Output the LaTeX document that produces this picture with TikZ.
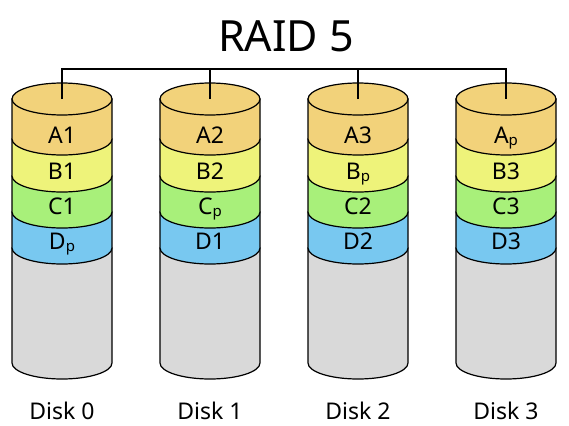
\documentclass[tikz,border=0pt]{standalone}
\usepackage{fontspec}
\setmainfont{Noto Sans}
\definecolor{layerA}{HTML}{F2D27A}
\definecolor{layerB}{HTML}{EEF37A}
\definecolor{layerC}{HTML}{A8F07A}
\definecolor{layerD}{HTML}{78C8F0}
\definecolor{diskgray}{HTML}{D9D9D9}
\newcommand{\subp}[1]{#1\raisebox{-2pt}{\fontsize{15}{15}\selectfont p}}
\begin{document}
\begin{tikzpicture}[x=1pt, y=-1pt, line width=1.2pt,
  every node/.style={font=\fontsize{23}{23}\selectfont, inner sep=0pt, anchor=base},
  layer/.style={draw=black, fill=#1}]
  \useasboundingbox (0,0) rectangle (569,425);
  \node (title) at (286,52) {\fontsize{43}{43}\selectfont RAID 5};
  \coordinate (bus) at (0,69);

  \foreach \i/\cx/\la/\lb/\lc/\ld in {0/62/A1/B1/C1/{\subp{D}},
      1/210/A2/B2/{\subp{C}}/D1, 2/358/A3/{\subp{B}}/C2/D2,
      3/506/{\subp{A}}/B3/C3/D3} {
    % body and stripes, from the bottom up
    \draw[layer=diskgray] (\cx-50,248) -- (\cx-50,363)
      arc[start angle=180, end angle=360, x radius=50pt, y radius=16pt] -- (\cx+50,248) -- cycle;
    \draw[layer=layerD] (\cx-50,212) -- (\cx-50,248)
      arc[start angle=180, end angle=360, x radius=50pt, y radius=16pt] -- (\cx+50,212) -- cycle;
    \draw[layer=layerC] (\cx-50,176) -- (\cx-50,212)
      arc[start angle=180, end angle=360, x radius=50pt, y radius=16pt] -- (\cx+50,176) -- cycle;
    \draw[layer=layerB] (\cx-50,139) -- (\cx-50,176)
      arc[start angle=180, end angle=360, x radius=50pt, y radius=16pt] -- (\cx+50,139) -- cycle;
    \draw[layer=layerA] (\cx-50,99) -- (\cx-50,139)
      arc[start angle=180, end angle=360, x radius=50pt, y radius=16pt] -- (\cx+50,99) -- cycle;
    \draw[layer=layerA] (\cx,99) ellipse[x radius=50pt, y radius=16pt];
    \coordinate (top\i) at (\cx,99);

    \node (a\i) at (\cx,143) {\la};
    \node (b\i) at (\cx,179) {\lb};
    \node (c\i) at (\cx,214) {\lc};
    \node (d\i) at (\cx,249) {\ld};
    \node (disk\i) at (\cx,419) {Disk \i};
  }

  \draw (top0) -- (top0 |- bus) -- (top3 |- bus) -- (top3);
  \draw (top1) -- (top1 |- bus);
  \draw (top2) -- (top2 |- bus);
\end{tikzpicture}
\end{document}
